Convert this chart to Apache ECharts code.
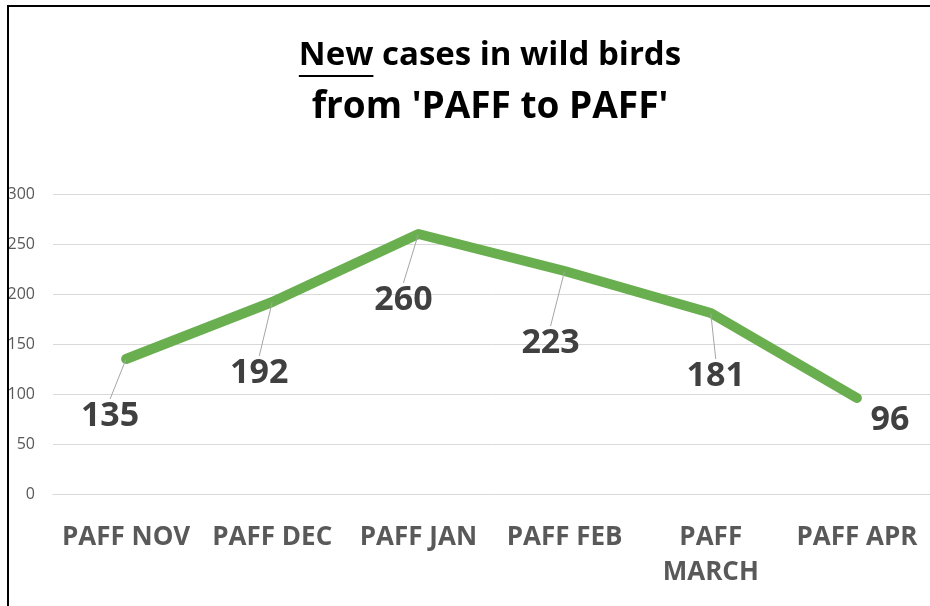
<!DOCTYPE html>
<html>
<head>
<meta charset="utf-8">
<title>New cases in wild birds</title>
<script src="https://cdn.jsdelivr.net/npm/echarts@6/dist/echarts.min.js"></script>
<style>
  html, body { margin: 0; padding: 0; background: #fff; }
  #chart { width: 930px; height: 606px; }
</style>
</head>
<body>
<div id="chart"></div>
<script>
var categories = ["PAFF NOV", "PAFF DEC", "PAFF JAN", "PAFF FEB", "PAFF MARCH", "PAFF APR"];
var newCases = [135, 192, 260, 223, 181, 96];
var yTicks = { min: 0, max: 300, step: 50 };

// where each data label sits relative to its point (Excel-style leader labels)
var labelShift = [[-16, 57], [-13, 71], [-15, 66], [-14, 72], [5, 63], [33, 22]];

var FONT = "'Open Sans', Lato, sans-serif";
var TITLE_FONT = "bold 33px " + FONT;
var SUBTITLE_FONT = "bold 37px " + FONT;
var titleLine1 = "New cases in wild birds";
var titleLine2 = "from 'PAFF to PAFF'";
var titleX = 490;

// underline below the word "New", found from the measured text width
var ctx = document.createElement("canvas").getContext("2d");
ctx.font = TITLE_FONT;
var line1W = ctx.measureText(titleLine1).width;
var newW = ctx.measureText("New").width;
var ulStart = titleX - line1W / 2;

var myChart = echarts.init(document.getElementById("chart"));

var option = {
  animation: false,
  backgroundColor: "#fff",
  textStyle: { fontFamily: FONT },
  grid: { left: 53, top: 194, width: 886, height: 300, containLabel: false },
  graphic: [
    {
      type: "text",
      z: 10,
      style: {
        x: titleX, y: 56,
        text: titleLine1,
        align: "center", verticalAlign: "middle",
        font: TITLE_FONT,
        fill: "#000"
      }
    },
    {
      type: "line",
      z: 10,
      shape: { x1: ulStart, y1: 76, x2: ulStart + newW, y2: 76 },
      style: { stroke: "#000", lineWidth: 2 }
    },
    {
      type: "text",
      z: 10,
      style: {
        x: titleX, y: 107,
        text: titleLine2,
        align: "center", verticalAlign: "middle",
        font: SUBTITLE_FONT,
        fill: "#000"
      }
    },
    {
      type: "rect",
      z: 100,
      shape: { x: 8, y: 6, width: 960, height: 640 },
      style: { fill: null, stroke: "#000", lineWidth: 2 }
    }
  ],
  xAxis: {
    type: "category",
    data: categories,
    boundaryGap: true,
    axisLine: { show: true, lineStyle: { color: "#d9d9d9", width: 1 } },
    axisTick: { show: false },
    axisLabel: {
      interval: 0,
      margin: 26,
      color: "#595959",
      fontSize: 26,
      fontWeight: "bold",
      lineHeight: 35,
      fontFamily: FONT,
      formatter: function (v) {
        return v.length > 9 ? v.replace(" ", "\n") : v;
      }
    }
  },
  yAxis: {
    type: "value",
    min: yTicks.min,
    max: yTicks.max,
    interval: yTicks.step,
    axisLine: { show: false },
    axisTick: { show: false },
    splitLine: { lineStyle: { color: "#d9d9d9", width: 1 } },
    axisLabel: { margin: 18, color: "#595959", fontSize: 16, fontFamily: FONT }
  },
  series: [
    {
      name: "New cases",
      type: "line",
      data: newCases.map(function (v, i) {
        return { value: v, labelLine: { show: i < newCases.length - 1 } };
      }),
      symbol: "circle",
      symbolSize: 1,
      showSymbol: true,
      itemStyle: { color: "#6aaf4f" },
      lineStyle: { color: "#6aaf4f", width: 10, cap: "round", join: "round" },
      label: {
        show: true,
        position: "inside",
        color: "#404040",
        fontSize: 34,
        fontWeight: "bold",
        fontFamily: FONT
      },
      labelLine: {
        show: true,
        lineStyle: { color: "#a6a6a6", width: 1 }
      },
      labelLayout: function (params) {
        var s = labelShift[params.dataIndex];
        return { dx: s[0], dy: s[1] };
      }
    }
  ]
};

myChart.setOption(option);
window.addEventListener("resize", function () {
  myChart.resize();
});
</script>
</body>
</html>
